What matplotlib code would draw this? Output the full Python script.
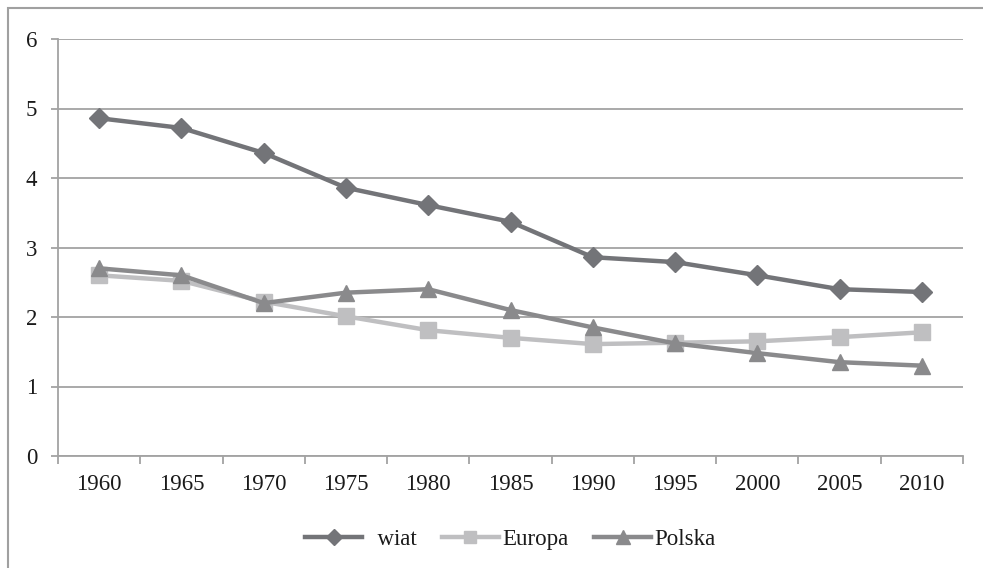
import matplotlib
matplotlib.use("Agg")
import matplotlib.pyplot as plt
from matplotlib.patches import Rectangle

# data
YEARS  = ["1960", "1965", "1970", "1975", "1980", "1985", "1990", "1995", "2000", "2005", "2010"]
SWIAT  = [4.86, 4.72, 4.36, 3.86, 3.61, 3.37, 2.86, 2.79, 2.60, 2.40, 2.36]
EUROPA = [2.60, 2.52, 2.22, 2.01, 1.81, 1.70, 1.61, 1.63, 1.65, 1.71, 1.78]
POLSKA = [2.70, 2.60, 2.20, 2.35, 2.40, 2.10, 1.85, 1.62, 1.48, 1.35, 1.30]
LABELS = ["\u2002wiat", "Europa", "Polska"]
Y_TICKS = [0, 1, 2, 3, 4, 5, 6]

# palette
C_SWIAT  = "#737478"
C_EUROPA = "#bfbfc1"
C_POLSKA = "#8a8a8c"
GRID     = "#a3a3a3"
TXT      = "#1a1a1a"

plt.rcParams["font.family"] = ["Liberation Serif", "DejaVu Serif"]

fig = plt.figure(figsize=(9.83, 5.68), dpi=100)
ax = fig.add_axes([58 / 983, 1 - 456 / 568, (963 - 58) / 983, (456 - 39) / 568])

# outer frame (cut off at right/bottom as in the source)
fig.patches.append(Rectangle((8 / 983, -0.05), 1.2, 1 - 8 / 568 + 0.05,
                             transform=fig.transFigure, fill=False,
                             edgecolor="#a0a0a0", linewidth=1.5))

x = list(range(len(YEARS)))
ax.plot(x, SWIAT, color=C_SWIAT, lw=3.2, marker="D", ms=10, label=LABELS[0], zorder=3)
ax.plot(x, EUROPA, color=C_EUROPA, lw=3.2, marker="s", ms=11, label=LABELS[1], zorder=3)
ax.plot(x, POLSKA, color=C_POLSKA, lw=3.2, marker="^", ms=12, label=LABELS[2], zorder=4)

ax.set_xlim(-0.5, len(YEARS) - 0.5)
ax.set_ylim(0, 6)
ax.set_yticks(Y_TICKS)
ax.set_yticklabels([str(v) for v in Y_TICKS])
ax.set_xticks(x)
ax.set_xticklabels(YEARS)
ax.set_xticks([i - 0.5 for i in range(len(YEARS) + 1)], minor=True)

ax.yaxis.grid(True, color=GRID, linewidth=1.3)
ax.set_axisbelow(True)
for s in ["top", "right"]:
    ax.spines[s].set_visible(False)
for s in ["left", "bottom"]:
    ax.spines[s].set_color(GRID)
    ax.spines[s].set_linewidth(1.3)

ax.tick_params(axis="x", which="major", length=0, pad=13, labelsize=16.5, labelcolor=TXT)
ax.tick_params(axis="x", which="minor", length=6, width=1.3, color=GRID, direction="out")
ax.tick_params(axis="y", length=5, width=1.3, color=GRID, pad=10, labelsize=16.5, labelcolor=TXT)

leg = ax.legend(loc="upper center", bbox_to_anchor=(0.5, -0.125), ncol=3,
                frameon=False, fontsize=16.5, handlelength=2.5, handletextpad=0.15,
                columnspacing=1.1, markerscale=0.85)
for t in leg.get_texts():
    t.set_color(TXT)

fig.savefig("out.png", dpi=100, facecolor="white")
